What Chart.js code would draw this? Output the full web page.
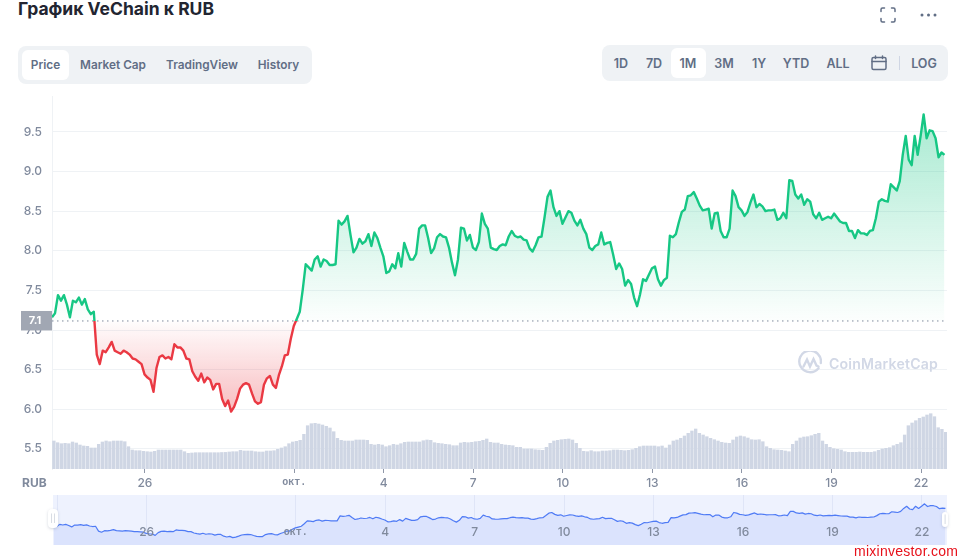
<!DOCTYPE html>
<html>
<head>
<meta charset="utf-8">
<title>VeChain RUB</title>
<script src="https://cdn.jsdelivr.net/npm/chart.js@4"></script>
<style>
  html, body { margin: 0; background: #fff; }
  body { position: relative; width: 965px; height: 558px; overflow: hidden; font-family: Inter, sans-serif; }
  .abs, canvas { position: absolute; }
  h1 { position: absolute; left: 18px; top: -2px; margin: 0; font-size: 17.5px; line-height: 22px; font-weight: 700; color: #222531; white-space: nowrap; }
  .bar { position: absolute; background: #eff2f5; border-radius: 8px; }
  .on { position: absolute; background: #fff; border-radius: 6px; }
  .t { position: absolute; transform: translateX(-50%); color: #616e85; font-weight: 600; font-size: 11.8px; line-height: 16px; white-space: nowrap; }
  .r { font-size: 12.5px; }
  .handle { position: absolute; background: #fff; border-radius: 4px; box-shadow: 0 1px 3px rgba(88,102,126,.25); color: #c4cad6; font-size: 8px; line-height: 100%; text-align: center; }
  #cmc { position: absolute; left: 829px; top: 354px; color: #d2d8e6; font-weight: 600; font-size: 14.1px; line-height: 20px; letter-spacing: .2px; }
  #site { position: absolute; left: 854px; top: 543px; color: #e6101a; font: 14px/16px "Liberation Sans", sans-serif; letter-spacing: .25px; }
</style>
</head>
<body>
<h1>График VeChain к RUB</h1>

<svg class="abs" style="left:880px;top:7px" width="16" height="16" viewBox="0 0 16 16" fill="none" stroke="#616e85" stroke-width="1.5" stroke-linecap="round">
  <path d="M1 4.500V2.500A1.500 1.500 0 0 1 2.500 1H4.500M11.500 1h2A1.500 1.500 0 0 1 15 2.500v2M15 11.500v2A1.500 1.500 0 0 1 13.500 15h-2M4.500 15h-2A1.500 1.500 0 0 1 1 13.500v-2"/>
</svg>
<svg class="abs" style="left:920px;top:13px" width="17" height="4" viewBox="0 0 17 4" fill="#616e85">
  <circle cx="2" cy="2" r="1.500"/><circle cx="8.500" cy="2" r="1.500"/><circle cx="15" cy="2" r="1.500"/>
</svg>

<div class="bar" style="left:18px;top:46px;width:294px;height:38px"></div>
<div class="on" style="left:22px;top:50px;width:47px;height:30px"></div>
<span class="t" style="left:45.500px;top:57px">Price</span>
<span class="t" style="left:113px;top:57px">Market Cap</span>
<span class="t" style="left:202px;top:57px">TradingView</span>
<span class="t" style="left:278.500px;top:57px">History</span>

<div class="bar" style="left:602px;top:45px;width:346px;height:36px"></div>
<div class="on" style="left:671px;top:48px;width:35px;height:30px"></div>
<span class="t r" style="left:621px;top:56px">1D</span>
<span class="t r" style="left:654px;top:56px">7D</span>
<span class="t r" style="left:688px;top:56px">1M</span>
<span class="t r" style="left:724px;top:56px">3M</span>
<span class="t r" style="left:759px;top:56px">1Y</span>
<span class="t r" style="left:796px;top:56px">YTD</span>
<span class="t r" style="left:838px;top:56px">ALL</span>
<svg class="abs" style="left:871px;top:55px" width="16" height="16" viewBox="0 0 16 16" fill="none" stroke="#616e85" stroke-width="1.500" stroke-linecap="round">
  <rect x="1" y="2.500" width="14" height="12" rx="1.500"/><path d="M1 6.500h14M4.500 1v2.500M11.500 1v2.500"/>
</svg>
<div class="abs" style="left:899px;top:56px;width:1px;height:14px;background:#cfd6e4"></div>
<span class="t r" style="left:924px;top:56px">LOG</span>

<canvas id="priceChart" style="left:0;top:90px" width="965" height="410"></canvas>
<canvas id="navChart" style="left:53px;top:495px" width="894" height="50"></canvas>

<div class="abs" style="left:22px;top:475px;color:#808a9d;font-weight:700;font-size:12px;line-height:15px">RUB</div>

<svg class="abs" style="left:798px;top:351px" width="24" height="24" viewBox="0 0 24 24" fill="none" stroke="#d2d8e6" stroke-width="2.400" stroke-linecap="round">
  <path d="M20.500 17.200A10.800 10.800 0 1 1 22.800 12"/>
  <path d="M5.500 15.500 9 8.500l3 7 3.500-7.500 3 6.500 2 1"/>
</svg>
<div id="cmc">CoinMarketCap</div>

<div class="handle" style="left:48px;top:509px;width:10px;height:19px;line-height:19px">||</div>
<div class="handle" style="left:942px;top:512px;width:6px;height:15px;line-height:15px">|</div>

<div id="site">mixinvestor.com</div>

<script>
// price, one reading every 0.1 day from the left edge
const priceValues = [
  7.16,7.21,7.44,7.37,7.44,7.32,7.16,7.37,7.35,7.41,7.32,7.39,7.26,7.20,7.23,6.69,6.57,6.74,6.72,6.78,
  6.85,6.74,6.72,6.70,6.74,6.72,6.69,6.64,6.63,6.60,6.57,6.44,6.40,6.37,6.22,6.52,6.66,6.68,6.64,6.66,
  6.63,6.82,6.78,6.78,6.74,6.64,6.63,6.48,6.41,6.36,6.45,6.34,6.40,6.37,6.25,6.32,6.32,6.13,6.04,6.11,
  5.97,6.03,6.13,6.26,6.31,6.33,6.31,6.20,6.10,6.07,6.09,6.31,6.39,6.42,6.31,6.27,6.43,6.54,6.68,6.69,
  6.89,7.05,7.14,7.23,7.51,7.83,7.79,7.75,7.89,7.93,7.80,7.89,7.87,7.82,7.82,7.83,8.38,8.33,8.37,8.44,
  8.20,7.98,8.04,8.15,8.09,8.12,8.21,8.06,8.23,8.16,8.04,7.93,7.72,7.74,7.83,7.78,7.97,7.80,8.10,7.99,
  7.89,7.89,7.96,8.28,8.32,8.32,8.16,7.97,8.03,8.17,8.21,8.18,8.17,8.04,7.85,7.69,7.89,8.29,8.28,8.13,
  8.20,8.04,8.01,8.11,8.47,8.34,8.28,8.04,8.02,8.01,8.06,8.08,8.07,8.18,8.25,8.19,8.17,8.18,8.14,8.13,
  8.03,7.99,8.07,8.17,8.18,8.42,8.68,8.76,8.55,8.44,8.50,8.34,8.42,8.50,8.48,8.38,8.32,8.39,8.28,8.21,
  8.04,8.01,8.06,8.08,8.23,8.08,8.10,8.11,7.95,7.77,7.84,7.77,7.56,7.63,7.58,7.41,7.30,7.45,7.64,7.62,
  7.70,7.78,7.80,7.64,7.56,7.63,7.66,8.19,8.17,8.21,8.36,8.49,8.52,8.69,8.70,8.74,8.66,8.57,8.51,8.52,
  8.53,8.28,8.47,8.48,8.25,8.17,8.17,8.28,8.76,8.69,8.55,8.51,8.44,8.49,8.61,8.71,8.55,8.59,8.56,8.50,
  8.51,8.51,8.52,8.39,8.41,8.48,8.41,8.89,8.88,8.71,8.66,8.71,8.58,8.65,8.62,8.46,8.41,8.48,8.39,8.41,
  8.43,8.41,8.47,8.42,8.37,8.35,8.35,8.25,8.25,8.16,8.26,8.22,8.22,8.20,8.25,8.26,8.41,8.62,8.65,8.63,
  8.62,8.84,8.80,8.76,8.88,9.21,9.45,9.15,9.08,9.45,9.21,9.45,9.72,9.42,9.52,9.51,9.42,9.18,9.24,9.21
];
// volume (index), one bar every 3 hours
const volumeValues = [
  28,26.3,25.3,25.7,25.3,27,26,24,23,22.7,21,21,24.7,27,28,27.3,28,28,28,27.3,
  22.3,19,18.3,18.3,17.7,17.3,17,17.7,19,19,19,19,19,19,19,17.3,15.7,16,16.3,16.3,
  16.3,16.3,16.3,16.3,16.3,16.5,16.6,17,17.3,17.3,18.7,18,18,18,17.3,17,17,18,18,18.3,
  19.7,21,22.3,25.3,27,27.7,28.7,34.7,43.3,45.3,45.7,45,44,42.7,41,37.3,30.7,28.7,28,28,
  28,29,29,29,28.7,24.7,24,24.7,24,22.3,23.3,24.7,24,25.3,26.7,27,27,27,27,28.3,
  29,28.7,26.3,25.7,25.3,24.7,24.3,23.3,23.3,26,26.7,26.3,26.7,27.3,27.7,28.7,30,26.7,26,26,
  24.7,24,23.7,23.3,21.7,21.7,20,20,20,19.3,19,18.7,21.7,25.7,28,28.7,29.3,29.7,30,29,
  25.7,20.7,17.7,17.3,18.3,17.3,17.3,18,18,18.3,19,19,18.7,18.3,18.7,19.3,20.7,22.3,23,23,
  23,23,22.3,23,21,24,28,29,30.7,33,35.7,38,40,35.7,34,32.3,30.7,29.3,28,26.7,
  26,25.7,29,32,33,32.3,31,29.3,29,29.3,27.3,22.3,20.7,19.3,19,18.7,18,17.3,24.7,28,
  31,32,32.3,33.3,34.7,35.7,28,24.7,21.7,20.3,19.7,19,17.3,16.7,16.7,16.7,17,16.7,16.7,16.7,
  17.3,18.7,20,20.7,21.3,23.3,24.7,26.3,34,43.3,46,48.3,50.7,52,54,55.3,52.3,41.3,39.7,36.7
];
const baselinePrice = 7.114;
const priceTicks = [5.5, 6, 6.5, 7, 7.5, 8, 8.5, 9, 9.5];
const dayTicks = [26, 31, 34, 37, 40, 43, 46, 49, 52];
const dayLabels = ['26', 'окт.', '4', '7', '10', '13', '16', '19', '22'];
const navDayTicks = [23, 26, 31, 34, 37, 40, 43, 46, 49, 52];
const navDayLabels = ['', '26', 'окт.', '4', '7', '10', '13', '16', '19', '22'];

const firstDay = 22.887, lastDay = 52.87;
const priceStep = 0.1, volumeFirst = 22.95, volumeStep = 0.125;

const GREEN = '#16c784', RED = '#ea3943', GRID = '#eff2f5', GRAY = '#808a9d';

const pricePoints = priceValues.map((v, i) => ({ x: firstDay + i * priceStep, y: v }));
const volumePoints = volumeValues.map((v, i) => ({ x: volumeFirst + i * volumeStep, y: v }));
const monthFont = { family: '"Liberation Mono", monospace', size: 10, weight: 'bold' };
const dayFont = { family: 'Inter', size: 12, weight: '500' };

// grey tag with the starting price on the left axis
const baselineTag = {
  id: 'baselineTag',
  afterDraw(chart) {
    const y = chart.scales.y.getPixelForValue(baselinePrice), c = chart.ctx;
    c.save();
    c.fillStyle = '#a1a7b3';
    c.fillRect(21, y - 10, 31, 19.5);
    c.fillStyle = '#fff';
    c.font = '700 11px Inter';
    c.textAlign = 'center';
    c.textBaseline = 'middle';
    c.fillText(baselinePrice.toFixed(1), 35, y);
    c.restore();
  }
};

const chart = new Chart(document.getElementById('priceChart'), {
  data: {
    datasets: [
      { type: 'line', data: pricePoints, yAxisID: 'y', borderWidth: 2.4, borderJoinStyle: 'round', pointRadius: 0, tension: 0, order: 1,
        borderColor: GREEN, fill: { target: { value: baselinePrice }, above: 'transparent', below: 'transparent' } },
      { type: 'line', data: [{ x: firstDay, y: baselinePrice }, { x: lastDay, y: baselinePrice }], yAxisID: 'y',
        borderColor: GRAY, borderWidth: 1, borderDash: [1.5, 3.5], pointRadius: 0, order: 2 },
      { type: 'bar', data: volumePoints, yAxisID: 'yVol', backgroundColor: '#cfd6e4', barThickness: 2.7, order: 3 }
    ]
  },
  options: {
    responsive: false,
    animation: false,
    events: [],
    layout: { padding: { top: 6, right: 18 } },
    plugins: { legend: { display: false }, tooltip: { enabled: false } },
    scales: {
      x: {
        type: 'linear', min: firstDay, max: lastDay, offset: false,
        afterBuildTicks(s) { s.ticks = dayTicks.map(value => ({ value })); },
        afterFit(s) { s.height = 31; s.paddingLeft = 0; s.paddingRight = 0; },
        grid: { drawOnChartArea: false, offset: false, tickLength: 4, tickColor: '#8f97a8' },
        border: { display: false },
        ticks: {
          color: GRAY, padding: 3, maxRotation: 0, autoSkip: false,
          font: c => dayLabels[c.index] === 'окт.' ? monthFont : dayFont,
          callback: v => dayLabels[dayTicks.indexOf(v)]
        }
      },
      y: {
        min: 5.246, max: 9.953,
        afterBuildTicks(s) { s.ticks = priceTicks.map(value => ({ value })); },
        afterFit(s) { s.width = 52; s.paddingTop = 0; s.paddingBottom = 0; },
        grid: { color: GRID, tickLength: 0 },
        border: { color: GRID },
        ticks: { color: GRAY, padding: 10, font: { family: 'Inter', size: 12, weight: '500' }, callback: v => v.toFixed(1) }
      },
      yVol: { display: false, min: 0, max: 373, afterFit(s) { s.width = 0; s.paddingTop = 0; s.paddingBottom = 0; } }
    }
  },
  plugins: [baselineTag]
});

// the fills and the line colour split at the baseline, so they need real pixel positions
const ctx = chart.ctx, area = chart.chartArea, yBase = chart.scales.y.getPixelForValue(baselinePrice);

const greenFill = ctx.createLinearGradient(0, area.top, 0, yBase);
greenFill.addColorStop(0, 'rgba(22,199,132,0.4)');
greenFill.addColorStop(1, 'rgba(22,199,132,0.01)');

const redFill = ctx.createLinearGradient(0, yBase, 0, chart.scales.y.getPixelForValue(6));
redFill.addColorStop(0, 'rgba(234,57,67,0.01)');
redFill.addColorStop(1, 'rgba(234,57,67,0.33)');

const lineColor = ctx.createLinearGradient(0, area.top, 0, area.bottom);
const split = (yBase - area.top) / (area.bottom - area.top);
lineColor.addColorStop(0, GREEN);
lineColor.addColorStop(split, GREEN);
lineColor.addColorStop(split, RED);
lineColor.addColorStop(1, RED);

chart.data.datasets[0].borderColor = lineColor;
chart.data.datasets[0].fill = { target: { value: baselinePrice }, above: greenFill, below: redFill };
chart.update('none');

// day labels sit inside the navigator strip
const navLabels = {
  id: 'navLabels',
  afterDatasetsDraw(c) {
    const g = c.ctx;
    g.save();
    g.fillStyle = GRAY;
    g.textAlign = 'center';
    g.textBaseline = 'middle';
    navDayTicks.forEach((day, i) => {
      const isMonth = navDayLabels[i] === 'окт.';
      g.font = isMonth ? 'bold 10px "Liberation Mono", monospace' : '500 12px Inter';
      g.fillText(navDayLabels[i], c.scales.x.getPixelForValue(day), 37);
    });
    g.restore();
  }
};

// navigator strip under the main plot
new Chart(document.getElementById('navChart'), {
  type: 'line',
  data: {
    datasets: [{
      data: priceValues.map((v, i) => ({ x: firstDay + i * priceStep, y: v })),
      borderColor: '#4f7bf5', borderWidth: 1.2, borderJoinStyle: 'round', pointRadius: 0, tension: 0,
      fill: 'start', backgroundColor: '#dbe3fd'
    }]
  },
  options: {
    responsive: false,
    animation: false,
    events: [],
    plugins: { legend: { display: false }, tooltip: { enabled: false } },
    layout: { padding: 0 },
    scales: {
      x: {
        type: 'linear', min: 22.86, max: 52.84,
        afterBuildTicks(s) { s.ticks = navDayTicks.map(value => ({ value })); },
        afterFit(s) { s.height = 0; s.paddingLeft = 0; s.paddingRight = 0; },
        grid: { color: '#dfe5f7', drawTicks: false },
        border: { display: false },
        ticks: { display: false }
      },
      y: { display: false, min: 5.15, max: 10.7 }
    }
  },
  plugins: [navLabels, {
    id: 'navBackground',
    beforeDraw(c) { c.ctx.fillStyle = '#eef2fe'; c.ctx.fillRect(0, 0, c.width, c.height); }
  }]
});
</script>
</body>
</html>
